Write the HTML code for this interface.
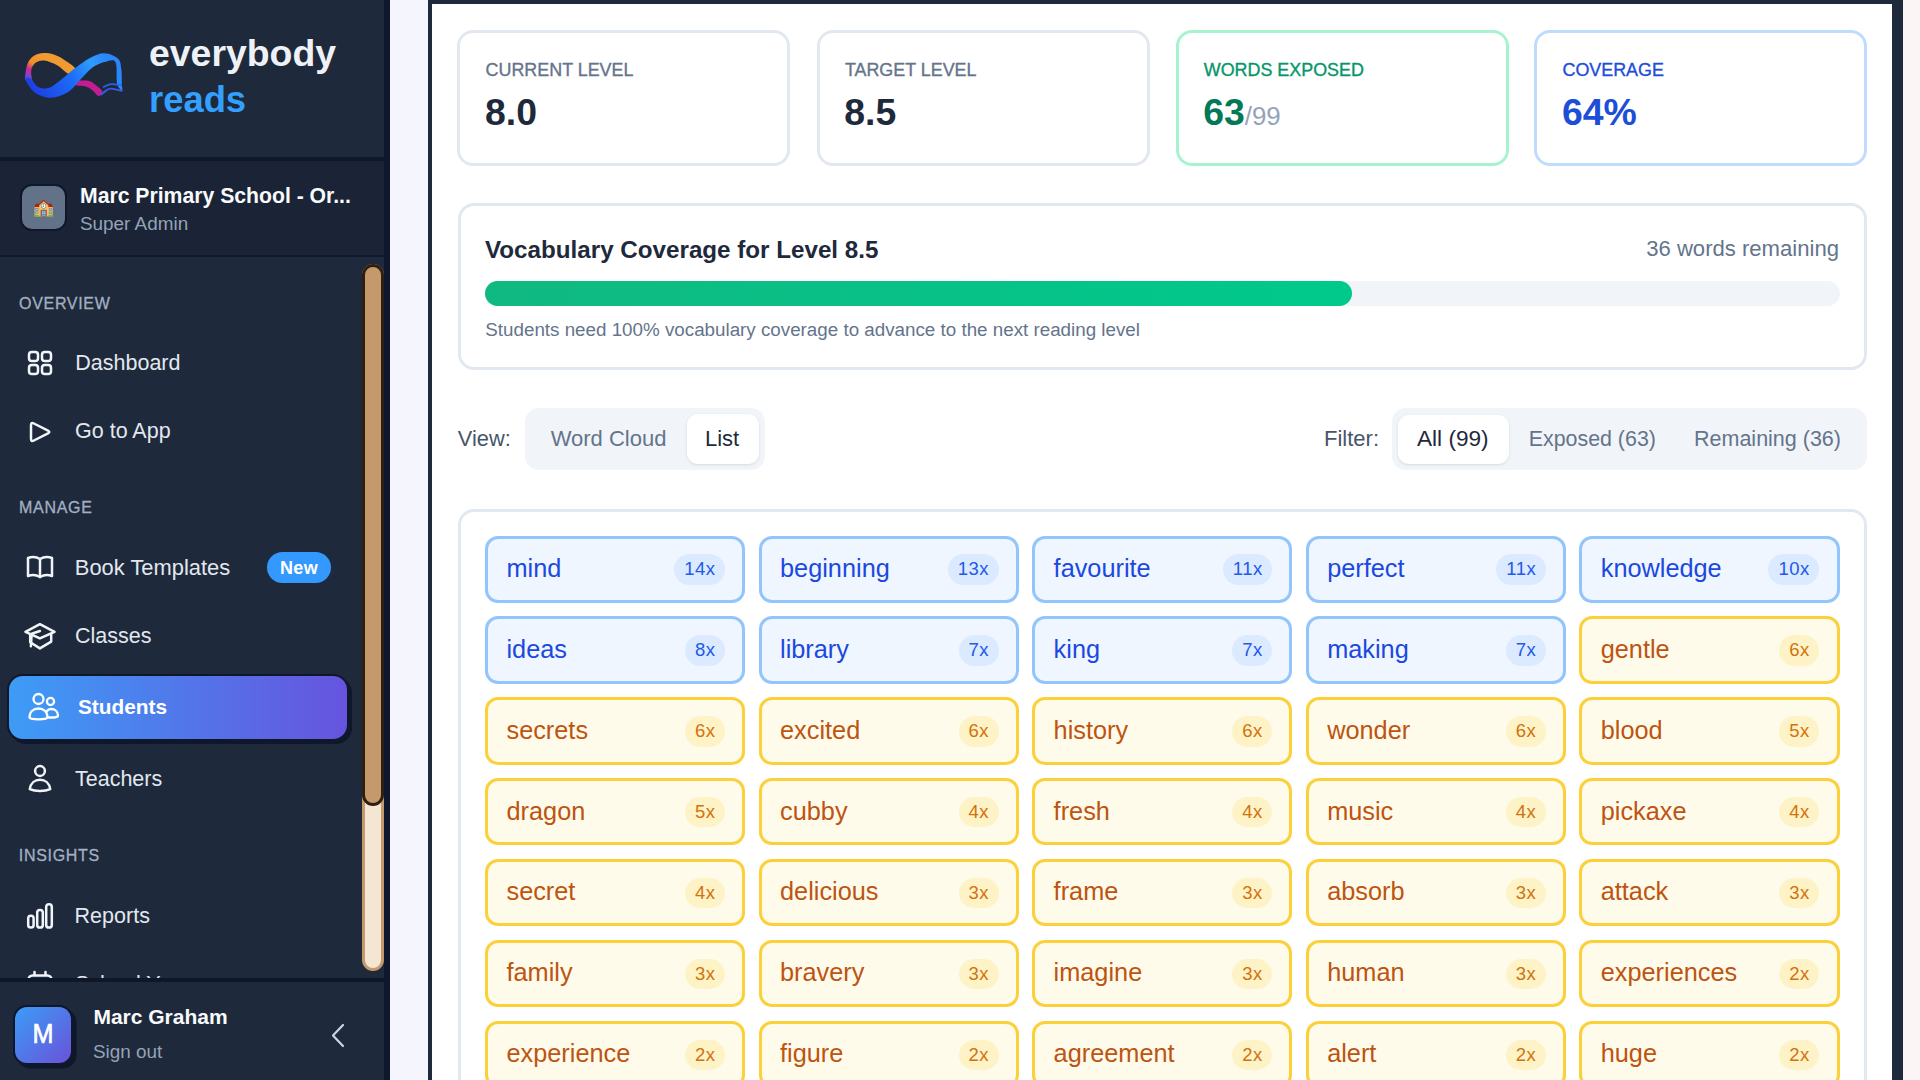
<!DOCTYPE html>
<html><head><meta charset="utf-8"><title>Everybody Reads</title>
<style>
*{margin:0;padding:0;box-sizing:border-box}
html,body{width:1920px;height:1080px;overflow:hidden;background:#f5f6fd;font-family:"Liberation Sans",sans-serif}
.t{position:absolute;white-space:nowrap;line-height:1}
.abs{position:absolute}
#sb{position:absolute;left:0;top:0;width:384px;height:1080px;background:#1e293b;overflow:hidden}
#sbb{position:absolute;left:384px;top:0;width:6px;height:1080px;background:#0f172a}
#main{position:absolute;left:390px;top:0;width:1530px;height:1080px;background:linear-gradient(90deg,#f5f6fd,#f8f6fb 50%,#fbf6f5)}
#panel{position:absolute;left:428px;top:0;width:1468px;height:1200px;background:#fff;border:4px solid #1e293b;box-shadow:7px 0 0 #1e293b}
.card{position:absolute;border:3px solid #e2e8f0;border-radius:16px;background:#fff}
.grid{position:absolute;left:485px;top:535.6px;width:1354.5px;display:grid;grid-template-columns:repeat(5,1fr);column-gap:13.3px;row-gap:13.7px;grid-auto-rows:67.2px}
.chip{position:relative;border:3px solid #93c5fd;background:#eff6ff;border-radius:13px;color:#1b48e0}
.chip.y{border-color:#fcd03a;background:#fffbeb;color:#bd5410}
.chip .w{position:absolute;left:18.5px;top:17.4px;font-size:25.3px;line-height:1}
.chip .b{position:absolute;right:17.2px;top:15.8px;height:30.4px;padding:0 10px;border-radius:16px;background:#dbeafe;font-size:18.5px;letter-spacing:0.5px;line-height:30.4px;padding:0 9.5px 0 10px}
.chip.y .b{background:#fef3c7;color:#d2720c}
.chip .b{color:#2259e8}
</style></head>
<body>
<div id="sb">
<svg class="abs" style="left:25px;top:53px" width="98" height="46" viewBox="0 0 98 46">
<defs>
<linearGradient id="lgL" gradientUnits="userSpaceOnUse" x1="20" y1="5" x2="5" y2="35"><stop offset="0" stop-color="#f29a32"/><stop offset="0.3" stop-color="#ef8f26"/><stop offset="0.5" stop-color="#d02c8e"/><stop offset="0.68" stop-color="#8a3fc8"/><stop offset="0.85" stop-color="#2f4fe6"/></linearGradient>
<linearGradient id="lgB" gradientUnits="userSpaceOnUse" x1="10" y1="42" x2="80" y2="2"><stop offset="0" stop-color="#1d3fe4"/><stop offset="0.5" stop-color="#1c6cf6"/><stop offset="0.8" stop-color="#2f9cff"/><stop offset="1" stop-color="#2a86fb"/></linearGradient>
</defs>
<path d="M0.37 27.18 C-0.66 26.10 -0.06 23.62 0.37 20.70 C0.80 17.78 1.45 12.71 2.96 9.68 C4.47 6.66 6.74 4.17 9.44 2.55 C12.14 0.93 15.92 0.12 19.16 -0.04 C22.40 -0.20 25.64 0.50 28.89 1.58 C32.13 2.66 35.04 4.12 38.61 6.44 C42.17 8.76 49.30 13.03 50.27 15.52 C51.24 18.00 47.46 21.89 44.44 21.35 C41.41 20.81 36.34 14.57 32.13 12.28 C27.91 9.99 22.62 8.10 19.16 7.61 C15.71 7.12 13.44 8.15 11.39 9.36 C9.33 10.57 7.71 12.98 6.85 14.87 C5.99 16.76 6.26 18.65 6.20 20.70 C6.15 22.75 7.50 26.10 6.53 27.18 C5.55 28.26 1.40 28.26 0.37 27.18 Z" fill="url(#lgL)"/>
<path d="M48.33 28.48 C50.81 27.83 59.45 27.18 63.23 27.83 C67.01 28.48 68.69 30.64 71.01 32.37 C73.33 34.09 76.74 36.42 77.17 38.20 C77.60 39.98 75.17 43.17 73.60 43.06 C72.04 42.95 69.82 39.12 67.77 37.55 C65.72 35.98 64.53 34.63 61.29 33.66 C58.05 32.69 50.49 32.58 48.33 31.72 C46.17 30.85 45.84 29.13 48.33 28.48 Z" fill="#c31d92"/>
<path d="M0.69 25.89 C0.48 27.29 3.12 31.83 4.91 34.31 C6.69 36.79 8.25 39.06 11.39 40.79 C14.52 42.52 19.70 44.36 23.70 44.68 C27.70 45.00 31.80 43.92 35.37 42.74 C38.93 41.55 41.85 40.14 45.09 37.55 C48.33 34.96 51.03 31.07 54.81 27.18 C58.59 23.29 63.45 17.30 67.77 14.22 C72.09 11.14 76.95 9.58 80.73 8.71 C84.51 7.85 88.62 5.96 90.45 9.03 C92.29 12.11 91.37 23.24 91.75 27.18 C92.13 31.12 91.80 30.91 92.72 32.69 C93.64 34.47 96.56 37.93 97.26 37.87 C97.96 37.82 97.10 35.98 96.93 32.37 C96.77 28.75 96.93 20.59 96.29 16.16 C95.64 11.74 95.85 8.44 93.05 5.79 C90.24 3.15 84.19 0.39 79.44 0.29 C74.68 0.18 69.93 2.28 64.53 5.15 C59.13 8.01 51.89 13.79 47.03 17.46 C42.17 21.13 39.25 24.27 35.37 27.18 C31.48 30.10 27.48 33.88 23.70 34.96 C19.92 36.04 15.60 35.17 12.68 33.66 C9.77 32.15 8.20 27.18 6.20 25.89 C4.20 24.59 0.91 24.48 0.69 25.89 Z" fill="url(#lgB)"/>
<path d="M78.14 34.31 C79.44 33.77 82.78 31.39 85.92 31.07 C89.05 30.75 95.10 32.15 96.93 32.37 " stroke="#2a62f0" stroke-width="1.7" fill="none"/>
<path d="M75.55 42.09 C76.41 41.39 79.00 38.96 80.73 37.87 C82.46 36.79 83.16 35.61 85.92 35.61 C88.67 35.61 95.37 37.50 97.26 37.87 " stroke="#3a5ae8" stroke-width="1.8" fill="none"/>
</svg>
<div class="t" style="left:149px;top:35.34px;font-size:37.4px;color:#eef2f6;font-weight:bold;">everybody</div>
<div class="t" style="left:149px;top:82.19px;font-size:36.4px;color:#33a0ff;font-weight:bold;">reads</div>
<div class="abs" style="left:0;top:157px;width:384px;height:4px;background:#0f172a"></div><div class="abs" style="left:0;top:161px;width:384px;height:94px;background:#1b2436"></div><div class="abs" style="left:0;top:255px;width:384px;height:2px;background:#111a2c"></div><div class="abs" style="left:19.5px;top:184px;width:47px;height:47px;border-radius:12px;background:#64748b;border:2px solid #0f172a;font-size:17px;line-height:43px;text-align:center;opacity:0.98">🏫</div><div class="t" style="left:80px;top:184.56px;font-size:21.2px;color:#f8fafc;font-weight:bold;">Marc Primary School - Or...</div>
<div class="t" style="left:80px;top:214.60px;font-size:18.9px;color:#94a3b8;font-weight:normal;">Super Admin</div>
<div class="t" style="left:19px;top:295.66px;font-size:16px;color:#a3b0c2;font-weight:normal;letter-spacing:0.7px;-webkit-text-stroke:0.3px #a3b0c2">OVERVIEW</div>
<div class="t" style="left:19px;top:500.46px;font-size:16px;color:#a3b0c2;font-weight:normal;letter-spacing:0.7px;-webkit-text-stroke:0.3px #a3b0c2">MANAGE</div>
<div class="t" style="left:18.8px;top:848.46px;font-size:16px;color:#a3b0c2;font-weight:normal;letter-spacing:0.7px;-webkit-text-stroke:0.3px #a3b0c2">INSIGHTS</div>
<div class="t" style="left:75.3px;top:353.00px;font-size:21.5px;color:#e2e8f0;font-weight:normal;">Dashboard</div>
<div class="t" style="left:75px;top:421.00px;font-size:21.5px;color:#e2e8f0;font-weight:normal;">Go to App</div>
<div class="t" style="left:74.8px;top:556.76px;font-size:21.9px;color:#e2e8f0;font-weight:normal;">Book Templates</div>
<div class="t" style="left:75px;top:625.90px;font-size:21.5px;color:#e2e8f0;font-weight:normal;">Classes</div>
<div class="t" style="left:75px;top:768.60px;font-size:21.5px;color:#e2e8f0;font-weight:normal;">Teachers</div>
<div class="t" style="left:74.6px;top:906.20px;font-size:21.5px;color:#e2e8f0;font-weight:normal;">Reports</div>
<div class="t" style="left:75px;top:973.80px;font-size:21.5px;color:#e2e8f0;font-weight:normal;">School Year</div>
<svg class="abs" style="left:26px;top:349px" width="28" height="28" viewBox="0 0 28 28" stroke="#f1f5f9" fill="none" stroke-width="2.5" stroke-linecap="round" stroke-linejoin="round"><rect x="3" y="3" width="9" height="9" rx="2.8"/><rect x="16" y="3" width="9" height="9" rx="2.8"/><rect x="3" y="16" width="9" height="9" rx="2.8"/><rect x="16" y="16" width="9" height="9" rx="2.8"/></svg><svg class="abs" style="left:26px;top:418px" width="28" height="28" viewBox="0 0 28 28" stroke="#f1f5f9" fill="none" stroke-width="2.5" stroke-linecap="round" stroke-linejoin="round" stroke-width="2.2"><path d="M5 7.2 Q5 4 7.9 5.5 L22 12.6 Q24.6 14 22 15.4 L7.9 22.5 Q5 24 5 20.8 Z"/></svg><svg class="abs" style="left:26px;top:553px" width="28" height="28" viewBox="0 0 28 28" stroke="#f1f5f9" fill="none" stroke-width="2.5" stroke-linecap="round" stroke-linejoin="round"><path d="M2 5 C6 3.5 10 3.5 14 6 C18 3.5 22 3.5 26 5 L26 23 C22 21.5 18 21.5 14 24 C10 21.5 6 21.5 2 23 Z"/><path d="M14 6 L14 24"/></svg><svg class="abs" style="left:24px;top:622px" width="32" height="28" viewBox="0 0 32 28" stroke="#f1f5f9" fill="none" stroke-width="2.5" stroke-linecap="round" stroke-linejoin="round" stroke-width="2.3"><path d="M1.5 9.8 L15.9 2.2 L30.5 9.8 L15.9 16.4 Z"/><path d="M6.2 13.3 L6.2 20.3 L15.9 26.4 L27.2 19.6 L27.2 12"/><path d="M15.9 9 L7.7 11.75 L6.9 24.25"/></svg><svg class="abs" style="left:27px;top:763px" width="26" height="30" viewBox="0 0 26 30" stroke="#f1f5f9" fill="none" stroke-width="2.5" stroke-linecap="round" stroke-linejoin="round"><circle cx="13" cy="8" r="4.9"/><path d="M2.8 26.2 C3.6 20 8 16.8 13 16.8 C18 16.8 22.4 20 23.2 26.2 C18 28.6 8 28.6 2.8 26.2 Z"/></svg><svg class="abs" style="left:25px;top:899.5px" width="30" height="30" viewBox="0 0 30 30" stroke="#f1f5f9" fill="none" stroke-width="2.5" stroke-linecap="round" stroke-linejoin="round" stroke-width="2.4"><rect x="3.2" y="15.7" width="5.4" height="11.9" rx="2.6"/><rect x="12.2" y="10" width="5.6" height="17.6" rx="2.7"/><rect x="21.2" y="4.2" width="5.6" height="23.4" rx="2.7"/></svg><svg class="abs" style="left:26px;top:969px" width="28" height="28" viewBox="0 0 28 28" stroke="#f1f5f9" fill="none" stroke-width="2.5" stroke-linecap="round" stroke-linejoin="round" stroke-width="2.3"><rect x="2.5" y="6.5" width="23" height="20" rx="4"/><path d="M8.5 3 L8.5 6 M19.5 3 L19.5 6"/></svg><div class="abs" style="left:267px;top:552.3px;width:64px;height:30.7px;border-radius:16px;background:#3399ff;color:#fff;font-weight:bold;font-size:18px;line-height:33.5px;text-align:center;letter-spacing:0.3px">New</div><div class="abs" style="left:7px;top:674px;width:342px;height:67px;border-radius:16px;background:linear-gradient(90deg,#3d9cf6,#6654de);border:2.5px solid #0f172a;box-shadow:3px 3px 0 #0f172a"></div><div class="t" style="left:78px;top:696.79px;font-size:20.8px;color:#ffffff;font-weight:bold;">Students</div>
<svg class="abs" style="left:27px;top:692px" width="34" height="32" viewBox="0 0 34 32" stroke="#fff" fill="none" stroke-width="2.3" stroke-linecap="round" stroke-linejoin="round"><circle cx="11.5" cy="7" r="5"/><circle cx="23.5" cy="9.5" r="3.6"/><path d="M2.5 25.5 C2.5 19.5 6.5 16.5 11.5 16.5 C16.5 16.5 20.5 19.5 20.5 25.5 C20.5 28 2.5 28 2.5 25.5 Z"/><path d="M20 19 C21 17.5 22.5 17 24 17 C28 17 31 19.5 31 23.5 C31 25.5 27 25.5 21.5 25.5"/></svg><div class="abs" style="left:362px;top:264px;width:22px;height:707px;border-radius:11px;background:#f5e6d3;border:3px solid #c49a6c"></div><div class="abs" style="left:362px;top:264px;width:22px;height:542px;border-radius:11px;background:#c49a6c;border:3px solid #2d1f12"></div><div class="abs" style="left:0;top:978px;width:384px;height:4px;background:#0f172a"></div><div class="abs" style="left:0;top:982px;width:384px;height:98px;background:#1e293b"></div><div class="abs" style="left:13px;top:1004.7px;width:60px;height:60px;border-radius:14px;background:linear-gradient(135deg,#3b9cf7,#6a52d9);border:2px solid #0f172a;box-shadow:3.5px 3.5px 0 #0f172a"></div><div class="t" style="left:15px;width:56px;text-align:center;top:1020px;font-size:28px;color:#fff;transform:scaleX(0.9);-webkit-text-stroke:0.7px #fff">M</div><div class="t" style="left:93.4px;top:1005.63px;font-size:21px;color:#f8fafc;font-weight:bold;">Marc Graham</div>
<div class="t" style="left:93px;top:1043.20px;font-size:18.9px;color:#94a3b8;font-weight:normal;">Sign out</div>
<svg class="abs" style="left:328px;top:1022px" width="20" height="27" viewBox="0 0 20 27" stroke="#cbd5e1" fill="none" stroke-width="2.2" stroke-linecap="round" stroke-linejoin="round"><path d="M15 3 L5 13.5 L15 24"/></svg>
</div>
<div id="sbb"></div>
<div id="main"></div>
<div id="panel"></div>
<div class="card" style="left:457.3px;top:29.5px;width:333px;height:136px;border-color:#e2e8f0"></div><div class="t" style="left:485.6px;top:61.85px;font-size:17.9px;color:#64748b;font-weight:normal;-webkit-text-stroke:0.35px #64748b">CURRENT LEVEL</div>
<div class="t" style="left:485.0px;top:93.94px;font-size:37.4px;color:#1e293b;font-weight:bold;">8.0</div>
<div class="card" style="left:816.6px;top:29.5px;width:333px;height:136px;border-color:#e2e8f0"></div><div class="t" style="left:844.9px;top:61.85px;font-size:17.9px;color:#64748b;font-weight:normal;-webkit-text-stroke:0.35px #64748b">TARGET LEVEL</div>
<div class="t" style="left:844.3000000000001px;top:93.94px;font-size:37.4px;color:#1e293b;font-weight:bold;">8.5</div>
<div class="card" style="left:1175.5px;top:29.5px;width:333px;height:136px;border-color:#a7f3d0"></div><div class="t" style="left:1203.8px;top:61.85px;font-size:17.9px;color:#059669;font-weight:normal;-webkit-text-stroke:0.35px #059669">WORDS EXPOSED</div>
<div class="t" style="left:1203.2px;top:93.94px;font-size:37.4px;color:#047857;font-weight:bold;">63<span style="font-size:25.9px;font-weight:normal;color:#94a3b8">/99</span></div>
<div class="card" style="left:1534.2px;top:29.5px;width:333px;height:136px;border-color:#bfdbfe"></div><div class="t" style="left:1562.5px;top:61.85px;font-size:17.9px;color:#1d4ed8;font-weight:normal;-webkit-text-stroke:0.35px #1d4ed8">COVERAGE</div>
<div class="t" style="left:1561.9px;top:93.94px;font-size:37.4px;color:#1d4ed8;font-weight:bold;">64%</div>
<div class="card" style="left:457.5px;top:203px;width:1409.5px;height:166.5px"></div><div class="t" style="left:485px;top:238.02px;font-size:24.2px;color:#1e293b;font-weight:bold;">Vocabulary Coverage for Level 8.5</div>
<div class="t" style="right:81px;top:238.29px;font-size:22.1px;color:#64748b">36 words remaining</div><div class="abs" style="left:485px;top:281px;width:1354.5px;height:24.7px;border-radius:12.4px;background:#f1f5f9"></div><div class="abs" style="left:485px;top:281px;width:867px;height:24.7px;border-radius:12.4px;background:linear-gradient(90deg,#10b981,#00c98c)"></div><div class="t" style="left:485.3px;top:321.09px;font-size:18.8px;color:#64748b;font-weight:normal;">Students need 100% vocabulary coverage to advance to the next reading level</div>
<div class="t" style="left:457.8px;top:428.15px;font-size:21.8px;color:#475569;font-weight:normal;">View:</div>
<div class="abs" style="left:524.8px;top:408px;width:240px;height:61.7px;border-radius:14px;background:#f1f5f9"></div><div class="abs" style="left:686.7px;top:414.4px;width:72px;height:49.6px;border-radius:11px;background:#fff;box-shadow:0 1px 3px rgba(15,23,42,0.12)"></div><div class="t" style="left:550.7px;top:427.98px;font-size:22px;color:#64748b;font-weight:normal;">Word Cloud</div>
<div class="t" style="left:705px;top:427.98px;font-size:22px;color:#1e293b;font-weight:normal;">List</div>
<div class="t" style="left:1324px;top:428.18px;font-size:22px;color:#475569;font-weight:normal;">Filter:</div>
<div class="abs" style="left:1392px;top:408px;width:475px;height:62px;border-radius:14px;background:#f1f5f9"></div><div class="abs" style="left:1398px;top:414.8px;width:111px;height:49.2px;border-radius:11px;background:#fff;box-shadow:0 1px 3px rgba(15,23,42,0.12)"></div><div class="t" style="left:1417px;top:427.67px;font-size:22.6px;color:#1e293b;font-weight:normal;">All (99)</div>
<div class="t" style="left:1528.7px;top:428.69px;font-size:21.4px;color:#64748b;font-weight:normal;">Exposed (63)</div>
<div class="t" style="left:1694px;top:428.60px;font-size:21.5px;color:#64748b;font-weight:normal;">Remaining (36)</div>
<div class="card" style="left:457.8px;top:508.5px;width:1409px;height:700px"></div><div class="grid"><div class="chip"><span class="w">mind</span><span class="b">14x</span></div><div class="chip"><span class="w">beginning</span><span class="b">13x</span></div><div class="chip"><span class="w">favourite</span><span class="b">11x</span></div><div class="chip"><span class="w">perfect</span><span class="b">11x</span></div><div class="chip"><span class="w">knowledge</span><span class="b">10x</span></div><div class="chip"><span class="w">ideas</span><span class="b">8x</span></div><div class="chip"><span class="w">library</span><span class="b">7x</span></div><div class="chip"><span class="w">king</span><span class="b">7x</span></div><div class="chip"><span class="w">making</span><span class="b">7x</span></div><div class="chip y"><span class="w">gentle</span><span class="b">6x</span></div><div class="chip y"><span class="w">secrets</span><span class="b">6x</span></div><div class="chip y"><span class="w">excited</span><span class="b">6x</span></div><div class="chip y"><span class="w">history</span><span class="b">6x</span></div><div class="chip y"><span class="w">wonder</span><span class="b">6x</span></div><div class="chip y"><span class="w">blood</span><span class="b">5x</span></div><div class="chip y"><span class="w">dragon</span><span class="b">5x</span></div><div class="chip y"><span class="w">cubby</span><span class="b">4x</span></div><div class="chip y"><span class="w">fresh</span><span class="b">4x</span></div><div class="chip y"><span class="w">music</span><span class="b">4x</span></div><div class="chip y"><span class="w">pickaxe</span><span class="b">4x</span></div><div class="chip y"><span class="w">secret</span><span class="b">4x</span></div><div class="chip y"><span class="w">delicious</span><span class="b">3x</span></div><div class="chip y"><span class="w">frame</span><span class="b">3x</span></div><div class="chip y"><span class="w">absorb</span><span class="b">3x</span></div><div class="chip y"><span class="w">attack</span><span class="b">3x</span></div><div class="chip y"><span class="w">family</span><span class="b">3x</span></div><div class="chip y"><span class="w">bravery</span><span class="b">3x</span></div><div class="chip y"><span class="w">imagine</span><span class="b">3x</span></div><div class="chip y"><span class="w">human</span><span class="b">3x</span></div><div class="chip y"><span class="w">experiences</span><span class="b">2x</span></div><div class="chip y"><span class="w">experience</span><span class="b">2x</span></div><div class="chip y"><span class="w">figure</span><span class="b">2x</span></div><div class="chip y"><span class="w">agreement</span><span class="b">2x</span></div><div class="chip y"><span class="w">alert</span><span class="b">2x</span></div><div class="chip y"><span class="w">huge</span><span class="b">2x</span></div></div>
</body></html>
